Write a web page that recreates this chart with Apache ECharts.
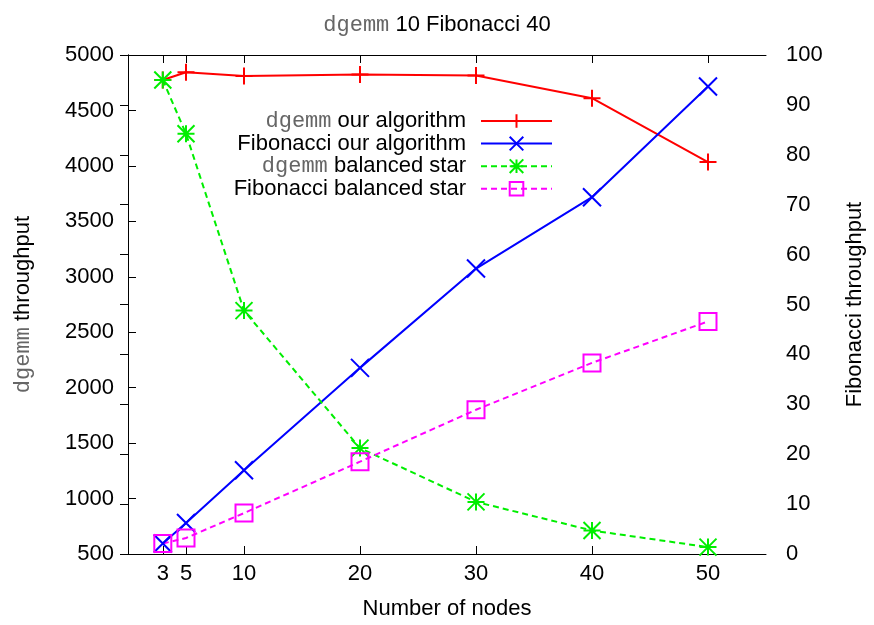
<!DOCTYPE html>
<html>
<head>
<meta charset="utf-8">
<script src="https://cdn.jsdelivr.net/npm/echarts@6/dist/echarts.min.js"></script>
<style>
  html, body { margin: 0; padding: 0; background: #fff; }
  #chart { width: 874px; height: 625px; }
</style>
</head>
<body>
<div id="chart"></div>
<script>
// nodes on the x axis
const nodes = [3, 5, 10, 20, 30, 40, 50]

// left axis (dgemm throughput)
const dgemmOurs = [4775, 4845, 4810, 4825, 4815, 4610, 4035]
const dgemmStar = [4775, 4290, 2695, 1455, 970, 712, 562]

// right axis (Fibonacci throughput)
const fibOurs = [2.1, 6.2, 16.8, 37.3, 57.2, 71.5, 93.7]
const fibStar = [2.1, 3.2, 8.2, 18.5, 28.9, 38.3, 46.6]

const leftTicks = { min: 500, max: 5000, step: 500 }
const rightTicks = { min: 0, max: 100, step: 10 }

const font = 'Liberation Sans, Arial, Helvetica, sans-serif'
const mono = { fontFamily: 'Liberation Mono, Courier New, monospace', color: '#666', fontSize: 22, lineHeight: 22 }

const plus = 'path://M0,-1L0,1M-1,0L1,0'
const cross = 'path://M-1,-1L1,1M1,-1L-1,1'
const star = 'path://M0,-1L0,1M-1,0L1,0M-1,-1L1,1M1,-1L-1,1'
const square = 'path://M-1,-1L1,-1L1,1L-1,1Z'

function pairs(ys) {
  return nodes.map((x, i) => [x, ys[i]])
}

function makeSeries(name, ys, axis, color, symbol, size, dashed) {
  return {
    name,
    type: 'line',
    yAxisIndex: axis,
    data: pairs(ys),
    symbol,
    symbolSize: size,
    showAllSymbol: true,
    color,
    lineStyle: { color, width: 2, type: dashed ? [6, 4] : 'solid' },
    itemStyle: { color: 'rgba(0,0,0,0)', borderColor: color, borderWidth: 2 },
  }
}

const chart = echarts.init(document.getElementById('chart'))

const axisLine = { show: true, lineStyle: { color: '#000', width: 1 } }
const tick = { show: true, inside: true, length: 8, lineStyle: { color: '#000' } }
const label = { color: '#000', fontSize: 22, fontFamily: font, formatter: (v) => String(v) }

chart.setOption({
  animation: false,
  backgroundColor: '#fff',
  title: {
    text: '{m|dgemm} 10 Fibonacci 40',
    left: 'center',
    top: 9,
    textStyle: { color: '#000', fontSize: 22, fontWeight: 'normal', fontFamily: font, rich: { m: mono } },
  },
  legend: {
    orient: 'vertical',
    right: 316,
    top: 105,
    align: 'right',
    itemWidth: 71,
    itemHeight: 17,
    itemGap: 0.6,
    selectedMode: false,
    textStyle: {
      color: '#000', fontSize: 22, lineHeight: 22, fontFamily: font, padding: [0, 10, 0, 0],
      rich: { m: mono },
    },
    formatter: (name) => name.replace('dgemm', '{m|dgemm}'),
  },
  grid: { left: 128, right: 108, top: 55, bottom: 70.5 },
  xAxis: [
    {
      type: 'value',
      min: 0,
      max: 55,
      name: 'Number of nodes',
      nameLocation: 'middle',
      nameGap: 44,
      nameTextStyle: { color: '#000', fontSize: 22, fontFamily: font },
      axisLine,
      axisTick: { ...tick, customValues: nodes },
      axisLabel: { ...label, margin: 9, customValues: nodes },
      splitLine: { show: false },
    },
    {
      type: 'value',
      position: 'top',
      min: 0,
      max: 55,
      axisLine,
      axisTick: { ...tick, customValues: nodes },
      axisLabel: { show: false, customValues: nodes },
      splitLine: { show: false },
    },
  ],
  yAxis: [
    {
      type: 'value',
      min: leftTicks.min,
      max: leftTicks.max,
      interval: leftTicks.step,
      name: '{m|dgemm} throughput',
      nameLocation: 'middle',
      nameGap: 94,
      nameTextStyle: { color: '#000', fontSize: 22, fontFamily: font, rich: { m: mono } },
      axisLine,
      axisTick: tick,
      axisLabel: { ...label, margin: 14 },
      splitLine: { show: false },
    },
    {
      type: 'value',
      min: rightTicks.min,
      max: rightTicks.max,
      interval: rightTicks.step,
      name: 'Fibonacci throughput',
      nameLocation: 'middle',
      nameGap: 78,
      nameTextStyle: { color: '#000', fontSize: 22, fontFamily: font },
      axisLine,
      axisTick: tick,
      axisLabel: { ...label, margin: 20 },
      splitLine: { show: false },
    },
  ],
  series: [
    makeSeries('dgemm our algorithm', dgemmOurs, 0, '#ff0000', plus, 17, false),
    makeSeries('Fibonacci our algorithm', fibOurs, 1, '#0000ff', cross, 18, false),
    makeSeries('dgemm balanced star', dgemmStar, 0, '#00ee00', star, 17, true),
    makeSeries('Fibonacci balanced star', fibStar, 1, '#ff00ff', square, 17, true),
  ],
})
</script>
</body>
</html>
